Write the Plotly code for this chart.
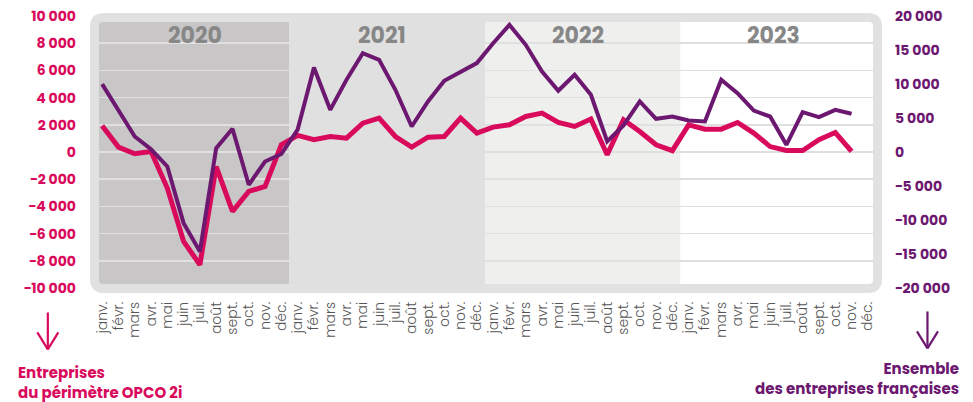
import plotly.graph_objects as go

# ---------------- data ----------------
months = ["janv.", "févr.", "mars", "avr.", "mai", "juin", "juil.", "août",
          "sept.", "oct.", "nov.", "déc."]
years = ["2020", "2021", "2022", "2023"]
month_labels = months * len(years)

# Entreprises du périmètre OPCO 2i (left axis)
opco = [1930, 360, -130, 40, -2650, -6580, -8290, -1070, -4370, -2900, -2530, 530,
        1220, 900, 1140, 1020, 2120, 2490, 1140, 360, 1090, 1140, 2490, 1390,
        1830, 2000, 2610, 2860, 2170, 1880, 2420, -200, 2370, 1510, 530, 100,
        2000, 1680, 1680, 2170, 1390, 400, 110, 110, 900, 1430, 40]

# Ensemble des entreprises françaises (right axis)
france = [9990, 6100, 2280, 400, -2130, -10460, -14630, 570, 3410, -4820, -1400, -300,
          3300, 12430, 6200, 10620, 14540, 13560, 9150, 3750, 7430, 10470, 11840, 13070,
          16000, 18700, 15760, 11840, 9000, 11350, 8410, 1550, 3900, 7430, 4880, 5220,
          4630, 4490, 10620, 8660, 6100, 5220, 1060, 5870, 5130, 6200, 5620]

band_colors = ["#c8c6c6", "#e0e0e0", "#efefee", "#ffffff"]

PINK = "#D90A5C"
PURPLE = "#6D1870"
FONT = "Poppins, Inter, sans-serif"

# ---------------- layout geometry (pixels) ----------------
W, H = 973, 402
ML, MR, MT, MB = 93.5, 97, 16, 113.5
PW = W - ML - MR
PH = H - MT - MB


def px_x(p):
    return (p - ML) / PW


def px_y(p):
    return (H - MB - p) / PH


fig = go.Figure()

fig.add_trace(go.Scatter(
    x=list(range(len(opco))), y=opco, mode="lines",
    line=dict(color=PINK, width=5), yaxis="y", name="OPCO 2i",
    hoverinfo="skip"))
fig.add_trace(go.Scatter(
    x=list(range(len(france))), y=france, mode="lines",
    line=dict(color=PURPLE, width=4), yaxis="y2", name="France",
    hoverinfo="skip"))

shapes = []
# year bands
for k, c in enumerate(band_colors):
    shapes.append(dict(type="rect", xref="x", yref="paper",
                       x0=12 * k - 0.5, x1=12 * k + 11.5, y0=0, y1=1,
                       fillcolor=c, line=dict(width=0), layer="below"))

# rounded frame
fx0, fx1 = px_x(94), px_x(877.5)
fy0, fy1 = px_y(289), px_y(17.5)
rx, ry = 9 / PW, 9 / PH
path = (f"M {fx0 + rx},{fy1} L {fx1 - rx},{fy1} Q {fx1},{fy1} {fx1},{fy1 - ry} "
        f"L {fx1},{fy0 + ry} Q {fx1},{fy0} {fx1 - rx},{fy0} "
        f"L {fx0 + rx},{fy0} Q {fx0},{fy0} {fx0},{fy0 + ry} "
        f"L {fx0},{fy1 - ry} Q {fx0},{fy1} {fx0 + rx},{fy1} Z")
shapes.append(dict(type="path", xref="paper", yref="paper", path=path,
                   line=dict(color="#e1e1e1", width=9), layer="above"))


# arrows
def arrow(xc, ytop, ybot, ywing, color):
    out = []
    out.append(dict(type="line", xref="paper", yref="paper",
                    x0=px_x(xc), x1=px_x(xc), y0=px_y(ytop), y1=px_y(ybot),
                    line=dict(color=color, width=2.2)))
    for s in (-1, 1):
        out.append(dict(type="line", xref="paper", yref="paper",
                        x0=px_x(xc + s * 10.5), x1=px_x(xc), y0=px_y(ywing), y1=px_y(ybot),
                        line=dict(color=color, width=2.2)))
    return out


shapes += arrow(47.3, 313, 350, 333, PINK)
shapes += arrow(927.5, 312, 349, 332, PURPLE)

annotations = []
for k, yr in enumerate(years):
    shift = 0.2 if k == 0 else -0.3
    annotations.append(dict(text=f"<b>{yr}</b>", xref="x", yref="paper",
                            x=12 * k + 5.5 + shift, y=px_y(35.5), showarrow=False,
                            xanchor="center", yanchor="middle",
                            font=dict(family=FONT, size=22, color="#878787")))

annotations.append(dict(text="<b>Entreprises<br>du périmètre OPCO 2i</b>",
                        xref="paper", yref="paper", x=px_x(15), y=px_y(383),
                        xanchor="left", yanchor="middle", align="left", showarrow=False,
                        font=dict(family=FONT, size=15, color=PINK)))
annotations.append(dict(text="<b>Ensemble<br>des entreprises françaises</b>",
                        xref="paper", yref="paper", x=px_x(961), y=px_y(379),
                        xanchor="right", yanchor="middle", align="right", showarrow=False,
                        font=dict(family=FONT, size=15, color=PURPLE)))

fig.update_layout(
    width=W, height=H,
    margin=dict(l=ML, r=MR, t=MT, b=MB, pad=0, autoexpand=False),
    paper_bgcolor="white", plot_bgcolor="white",
    showlegend=False,
    separators=", ",
    shapes=shapes,
    annotations=annotations,
    xaxis=dict(
        range=[-0.5, 47.5],
        tickmode="array",
        tickvals=list(range(len(month_labels))),
        ticktext=month_labels,
        tickangle=-90,
        showgrid=False, zeroline=False, showline=False, automargin=False,
        ticks="", ticklabelstandoff=10,
        tickfont=dict(family=FONT, size=14, color="#555555", weight=300),
    ),
    yaxis=dict(
        range=[-10000, 10000], dtick=2000, tick0=0,
        showgrid=True, gridcolor="#e0e0e0", gridwidth=1.5,
        zeroline=False, showline=False, ticks="", automargin=False,
        exponentformat="none", separatethousands=True, ticklabelstandoff=17,
        tickfont=dict(family=FONT, size=14, color=PINK, weight=700),
    ),
    yaxis2=dict(
        range=[-20000, 20000], dtick=5000, tick0=0,
        overlaying="y", side="right", automargin=False,
        showgrid=False, zeroline=False, showline=False, ticks="",
        exponentformat="none", separatethousands=True, ticklabelstandoff=18,
        tickfont=dict(family=FONT, size=14, color=PURPLE, weight=700),
    ),
)

fig.write_html("out.html",
               config={"displayModeBar": False, "staticPlot": True},
               post_script="document.body.style.margin='0';document.body.style.padding='0';")
